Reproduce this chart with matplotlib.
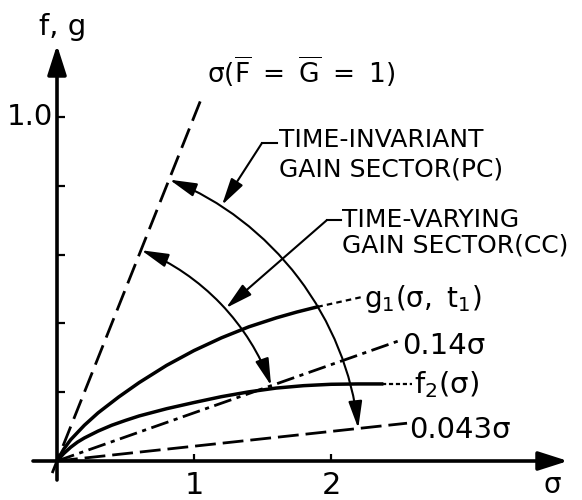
import matplotlib
matplotlib.use("Agg")
import matplotlib.pyplot as plt
from matplotlib.patches import FancyArrowPatch
from matplotlib.path import Path
from matplotlib.transforms import Affine2D, ScaledTranslation

plt.rcParams['font.family'] = ['DejaVu Sans']
plt.rcParams['mathtext.fontset'] = 'dejavusans'
plt.rcParams['mathtext.default'] = 'regular'
plt.rcParams['lines.scale_dashes'] = False

# g1(sigma, t1) - верхняя сплошная кривая
g1_sigma = [0, 0.05, 0.1, 0.2, 0.3, 0.45, 0.6, 0.8, 1.0, 1.2, 1.4, 1.6, 1.75, 1.9]
g1_vals = [0, 0.035, 0.062, 0.104, 0.14, 0.186, 0.228, 0.278, 0.321, 0.358, 0.39, 0.416, 0.433, 0.448]

# f2(sigma) - нижняя сплошная кривая
f2_sigma = [0, 0.05, 0.1, 0.15, 0.2, 0.3, 0.4, 0.5, 0.6, 0.8, 1.0, 1.2, 1.4, 1.6, 1.8, 2.0, 2.2, 2.37]
f2_vals = [0, 0.022, 0.040, 0.055, 0.067, 0.087, 0.104, 0.118, 0.131, 0.152, 0.17, 0.187,
           0.201, 0.212, 0.219, 0.223, 0.224, 0.224]

# прямые f = k*sigma
unit_sigma = [-0.035, 1.066]      # sigma(F=G=1): f = sigma
k_upper = 0.14
upper_sigma = [0, 2.50]
k_lower = 0.043
lower_sigma = [0, 2.555]

f_ticks = [0.2, 0.4, 0.6, 0.8, 1.0]
sigma_ticks = [1, 2]

# масштаб: пикселей на единицу по осям и положение начала координат
SX, SY = 137.0, 344.0
X0, Y0 = 57.0, 461.0
W, H = 582, 500


def px(x, y):
    return (x - X0) / SX, (Y0 - y) / SY


fig = plt.figure(figsize=(W / 100, H / 100), dpi=100)
ax = fig.add_axes([0, 0, 1, 1])
ax.set_xlim(-X0 / SX, (W - X0) / SX)
ax.set_ylim((Y0 - H) / SY, Y0 / SY)
ax.axis('off')

k = 'black'

# оси со стрелками
ax.annotate('', xy=px(568, Y0), xytext=px(33, Y0),
            arrowprops=dict(arrowstyle='-|>,head_length=1.0,head_width=0.32',
                            mutation_scale=18, lw=2.6, color=k, shrinkA=0, shrinkB=0))
ax.annotate('', xy=px(X0, 45), xytext=px(X0, 480),
            arrowprops=dict(arrowstyle='-|>,head_length=1.0,head_width=0.32',
                            mutation_scale=18, lw=2.6, color=k, shrinkA=0, shrinkB=0))

for t in f_ticks:
    ax.plot([0, 0.058], [t, t], color=k, lw=1.6, solid_capstyle='butt')
for t in sigma_ticks:
    ax.plot([t, t], [0, 0.02], color=k, lw=1.6, solid_capstyle='butt')

ax.text(*px(63, 27), 'f, g', fontsize=21, ha='center', va='center')
ax.text(*px(53, 117), '1.0', fontsize=21, ha='right', va='center')
for t in sigma_ticks:
    ax.text(t, (Y0 - 485) / SY, str(t), fontsize=22, ha='center', va='center')
ax.text(*px(552, 485), 'σ', fontsize=20, ha='center', va='center')

# прямые
ax.plot(unit_sigma, unit_sigma, color=k, lw=2.0, dashes=(15, 6))
ax.plot(upper_sigma, [k_upper * s for s in upper_sigma], color=k, lw=2.0,
        dashes=(13, 4, 3, 4))
ax.plot(lower_sigma, [k_lower * s for s in lower_sigma], color=k, lw=2.0,
        dashes=(15, 5))

# кривые
ax.plot(g1_sigma, g1_vals, color=k, lw=2.5)
ax.plot(f2_sigma, f2_vals, color=k, lw=2.5)
ax.plot([g1_sigma[-1], px(362, 297)[0]], [g1_vals[-1], px(362, 297)[1]],
        color=k, lw=1.6, dashes=(4, 3))
ax.plot([f2_sigma[-1], px(412, 384)[0]], [f2_vals[-1], f2_vals[-1]],
        color=k, lw=1.6, dashes=(3, 2))

# дуги секторов (окружности в пикселях вокруг начала координат)
arc_trans = fig.dpi_scale_trans + ScaledTranslation(0, 0, ax.transData)
for r, a1, a2 in [(3.03, 6.2, 68.2), (2.27, 19.4, 68.2)]:
    arc = Affine2D().scale(r).transform_path(Path.arc(a1, a2))
    ax.add_patch(FancyArrowPatch(path=arc, transform=arc_trans,
                                 arrowstyle='<|-|>,head_length=1.1,head_width=0.28',
                                 mutation_scale=15, lw=1.5, color=k))

# выноски
ax.plot(*zip(px(277, 143), px(262, 143)), color=k, lw=1.5)
ax.annotate('', xy=px(222, 205), xytext=px(262, 143),
            arrowprops=dict(arrowstyle='-|>,head_length=1.1,head_width=0.28',
                            mutation_scale=15, lw=1.5, color=k, shrinkA=0, shrinkB=0))
ax.plot(*zip(px(341, 220), px(327, 220)), color=k, lw=1.5)
ax.annotate('', xy=px(226, 308), xytext=px(327, 220),
            arrowprops=dict(arrowstyle='-|>,head_length=1.1,head_width=0.28',
                            mutation_scale=15, lw=1.5, color=k, shrinkA=0, shrinkB=0))

# подписи
ax.text(*px(207, 72), r'$\sigma(\overline{F}\ =\ \overline{G}\ =\ 1)$', fontsize=19,
        ha='left', va='center')
ax.text(*px(279, 140), 'TIME-INVARIANT', fontsize=18, ha='left', va='center')
ax.text(*px(279, 170), 'GAIN SECTOR(PC)', fontsize=18, ha='left', va='center')
ax.text(*px(342, 220), 'TIME-VARYING', fontsize=18, ha='left', va='center')
ax.text(*px(342, 246), 'GAIN SECTOR(CC)', fontsize=18, ha='left', va='center')
ax.text(*px(364, 299), r'$g_1(\sigma,\ t_1)$', fontsize=20, ha='left', va='center')
ax.text(*px(402, 346), '0.14σ', fontsize=21, ha='left', va='center')
ax.text(*px(414, 385), r'$f_2(\sigma)$', fontsize=21, ha='left', va='center')
ax.text(*px(409, 430), '0.043σ', fontsize=21, ha='left', va='center')

fig.savefig('out.png', dpi=100)
